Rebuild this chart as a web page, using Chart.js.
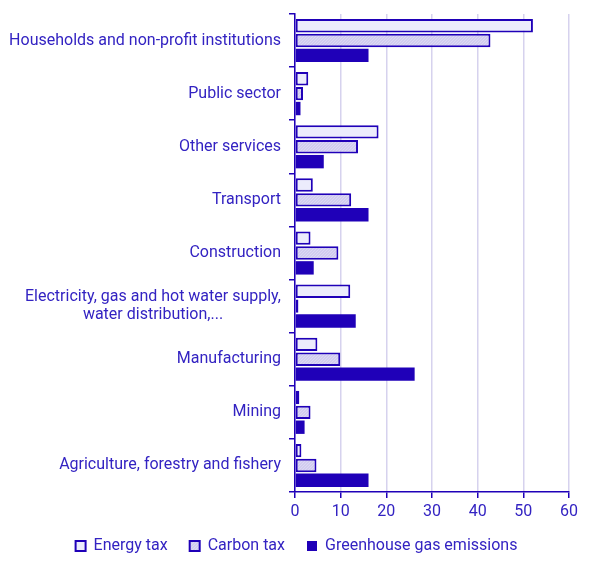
<!DOCTYPE html>
<html>
<head>
<meta charset="utf-8">
<script src="https://cdn.jsdelivr.net/npm/chart.js@4"></script>
<style>
  html, body { margin: 0; padding: 0; background: #fff; }
  #wrap { width: 593px; height: 567px; }
</style>
</head>
<body>
<div id="wrap"><canvas id="grafico"></canvas></div>
<script>
// categorias (eixo Y)
const categorias = [
    'Households and non-profit institutions',
    'Public sector',
    'Other services',
    'Transport',
    'Construction',
    ['Electricity, gas and hot water supply,', 'water distribution,...'],
    'Manufacturing',
    'Mining',
    'Agriculture, forestry and fishery'
];
// valores (%)
const energyTax = [52.1, 2.9, 18.3, 3.9, 3.4, 12.1, 4.9, 0.95, 1.4];
const carbonTax = [42.8, 1.75, 13.8, 12.3, 9.5, 0.75, 9.9, 3.4, 4.7];
const ghgEmissions = [16.1, 1.2, 6.3, 16.1, 4.1, 13.3, 26.2, 2.1, 16.1];
const xTicks = [0, 10, 20, 30, 40, 50, 60];

const azul = '#1f00b8';
const texto = '#3323c2';
const grade = '#d6d2ee';

// textura pontilhada (bem suave) para o "Carbon tax"
function padrao() {
    const c = document.createElement('canvas');
    c.width = 3; c.height = 3;
    const g = c.getContext('2d');
    g.fillStyle = '#d1ccef';
    g.fillRect(0, 0, 3, 3);
    g.fillStyle = '#dcd9f4';
    g.fillRect(0, 0, 1, 1);
    g.fillRect(2, 1, 1, 1);
    g.fillRect(1, 2, 1, 1);
    return g.createPattern(c, 'repeat');
}

// desenha os rótulos das categorias com linhas centralizadas entre si
const rotulos = {
    id: 'rotulos',
    afterDraw(chart) {
        const ctx = chart.ctx;
        const y = chart.scales.y;
        ctx.save();
        ctx.font = '16px Roboto';
        ctx.fillStyle = texto;
        ctx.textBaseline = 'middle';
        ctx.textAlign = 'center';
        const direita = y.right - 14;
        categorias.forEach((cat, i) => {
            const linhas = Array.isArray(cat) ? cat : [cat];
            const larg = Math.max(...linhas.map(l => ctx.measureText(l).width));
            const cx = direita - larg / 2;
            const py = y.getPixelForTick(i);
            const alt = 18;
            linhas.forEach((l, j) => {
                ctx.fillText(l, cx, py + (j - (linhas.length - 1) / 2) * alt);
            });
        });
        ctx.restore();
    }
};

Chart.defaults.font.family = 'Roboto';
Chart.defaults.font.size = 16;
Chart.defaults.color = texto;

const ctx = document.getElementById('grafico').getContext('2d');
new Chart(ctx, {
    type: 'bar',
    data: {
        labels: categorias,
        datasets: [{
            label: 'Energy tax',
            data: energyTax,
            backgroundColor: '#ececfc',
            borderColor: azul,
            borderWidth: 2,
            borderSkipped: false
        }, {
            label: 'Carbon tax',
            data: carbonTax,
            backgroundColor: padrao(),
            borderColor: azul,
            borderWidth: 2,
            borderSkipped: false
        }, {
            label: 'Greenhouse gas emissions',
            data: ghgEmissions,
            backgroundColor: azul,
            borderColor: azul,
            borderWidth: 0
        }]
    },
    options: {
        indexAxis: 'y',
        responsive: true,
        maintainAspectRatio: false,
        animation: false,
        datasets: { bar: { categoryPercentage: 0.84, barPercentage: 0.9 } },
        layout: { padding: { top: 14, left: 24, right: 24, bottom: 3 } },
        plugins: {
            tooltip: { enabled: false },
            legend: {
                position: 'bottom',
                labels: {
                    boxWidth: 10,
                    boxHeight: 10,
                    padding: 22,
                    color: texto,
                    font: { size: 16 }
                }
            }
        },
        scales: {
            x: {
                min: 0,
                max: 60,
                afterBuildTicks: s => { s.ticks = xTicks.map(v => ({ value: v })); },
                afterFit: s => { s.height = 24; },
                grid: { color: grade, lineWidth: 1.5, tickColor: azul, tickLength: 6 },
                border: { color: azul, width: 1.5 },
                ticks: { color: texto, padding: 4, font: { size: 16 } }
            },
            y: {
                afterFit: s => { s.width = 271; },
                grid: { drawOnChartArea: false, offset: true, color: azul, tickLength: 6, lineWidth: 1.5 },
                border: { color: azul, width: 1.5 },
                ticks: { display: false }
            }
        }
    },
    plugins: [rotulos]
});
</script>
</body>
</html>
